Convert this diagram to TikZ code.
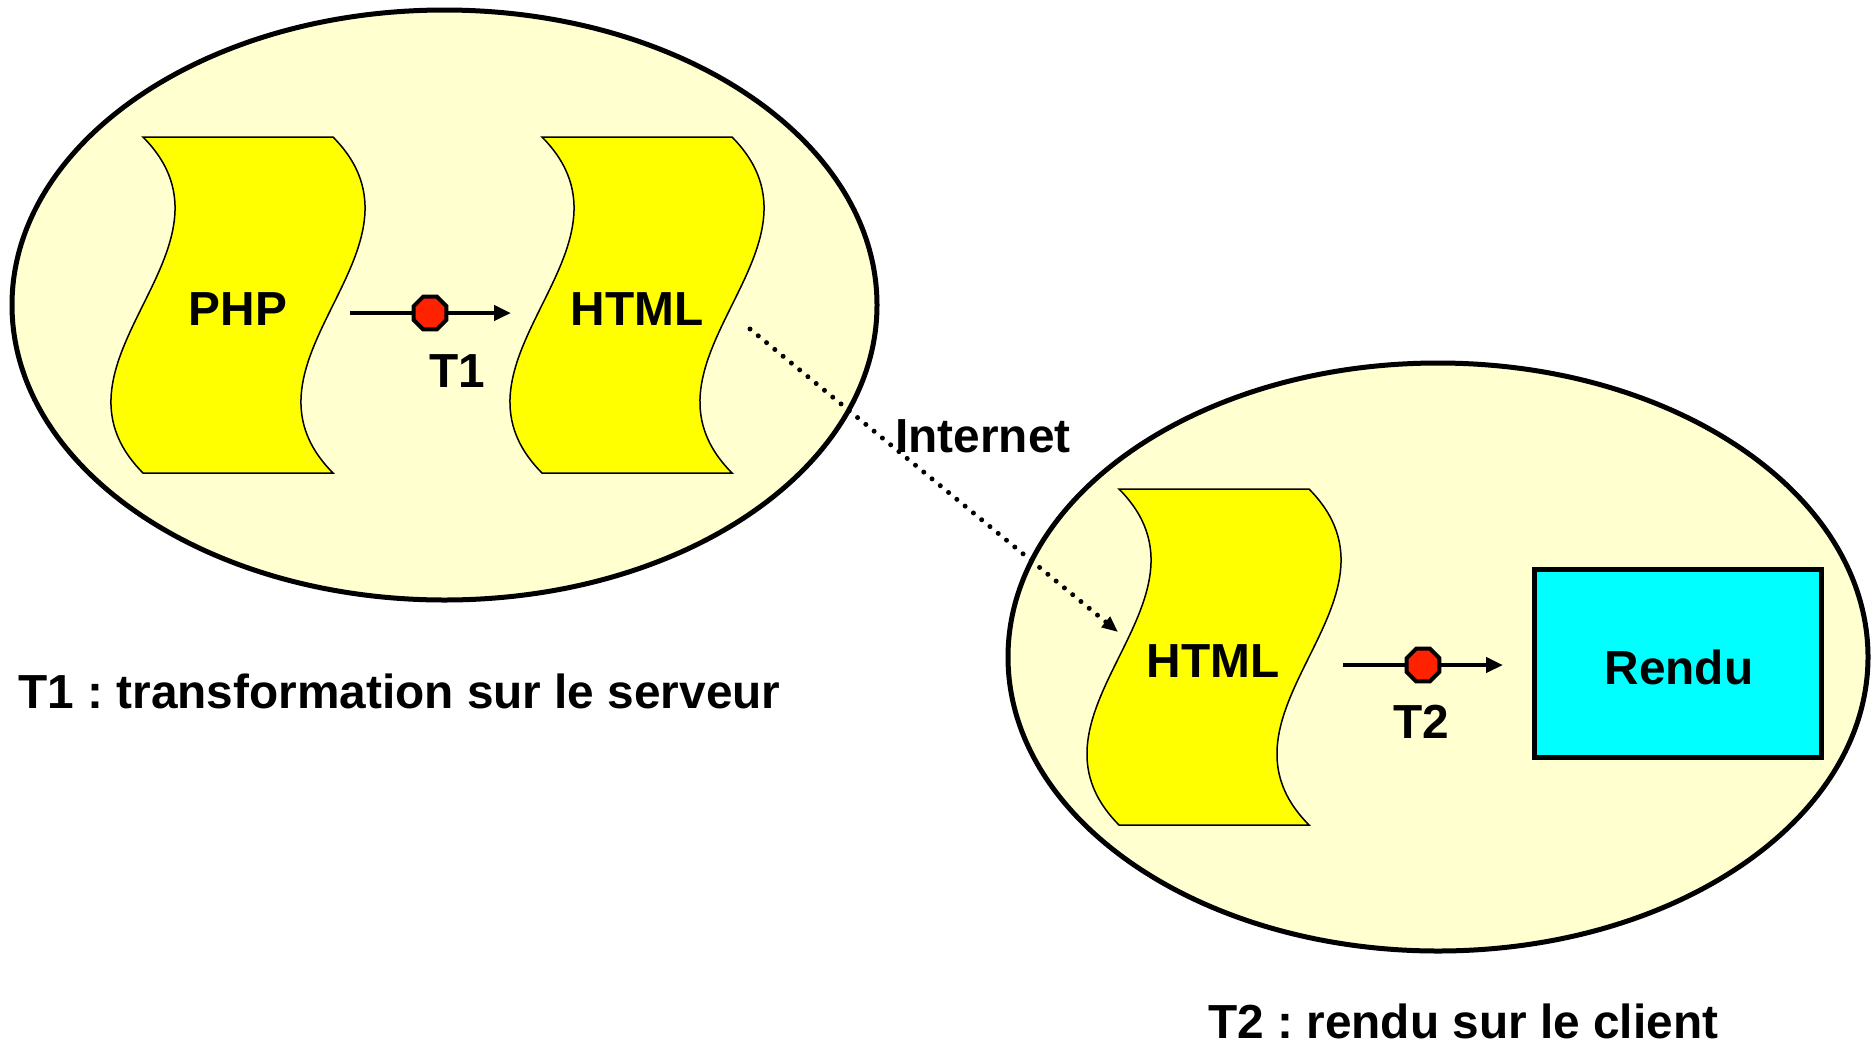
\documentclass[tikz,border=0pt]{standalone}
\usepackage{fontspec}
\setmainfont{Liberation Sans}
\usetikzlibrary{arrows.meta,shapes.geometric}
\frenchspacing

\definecolor{zonefill}{RGB}{255,255,208}
\definecolor{docfill}{RGB}{255,255,0}
\definecolor{renderfill}{RGB}{0,255,255}
\definecolor{stopred}{RGB}{255,34,0}

\tikzset{
  zone/.style={draw=black, fill=zonefill, line width=0.1cm},
  docshape/.style={draw=black, fill=docfill, line width=0.03cm},
  lbl/.style={font=\fontsize{27.2}{32}\selectfont\bfseries, inner sep=0pt, anchor=base},
  caption/.style={lbl, anchor=base west, text depth=0pt},
  flow/.style={line width=0.09cm, -{Triangle[length=0.34cm,width=0.3cm]}},
  netlink/.style={line width=0.1cm, line cap=round, dash pattern=on 0pt off 6.1pt,
                  -{Triangle[length=0.32cm,width=0.26cm]}},
  stopmark/.style={regular polygon, regular polygon sides=8, draw=black, fill=stopred,
                   line width=0.08cm, minimum size=0.71cm, inner sep=0pt},
  renderbox/.style={draw=black, fill=renderfill, line width=0.1cm}
}

% wavy document sheet centred at (#1,#2): half width 95, half height 168
\newcommand\wavesheet[2]{%
  \draw[docshape] (#1-95,#2-168) -- (#1+95,#2-168)
    .. controls (#1+206,#2-56) and (#1-16,#2+56) .. (#1+95,#2+168)
    -- (#1-95,#2+168)
    .. controls (#1-206,#2+56) and (#1+16,#2-56) .. (#1-95,#2-168) -- cycle;}

\begin{document}
\begin{tikzpicture}[x=0.02cm, y=-0.02cm]
\useasboundingbox (0,0) rectangle (1876,1049);

% server and client zones
\draw[zone] (444.5,305) ellipse [x radius=432.5, y radius=295];
\draw[zone] (1438,657) ellipse [x radius=430, y radius=294];

% documents
\wavesheet{238}{305}
\wavesheet{637}{305}
\wavesheet{1214}{657}

\node[lbl] (php) at (238,325) {PHP};
\node[lbl] (html1) at (637,325) {HTML};
\node[lbl] (html2) at (1213,677) {HTML};

% rendering result
\node[renderbox, minimum width=5.76cm, minimum height=3.78cm, inner sep=0pt] (rendu) at (1678,663.5) {};
\node[lbl] (rendutxt) at (1679,684) {Rendu};

% transformation T1 on the server
\coordinate (t1s) at (350,313);
\coordinate (t1e) at (511,313);
\draw[flow] (t1s) -- (t1e);
\node[stopmark] (stop1) at (430,313) {};
\node[lbl] (t1) at (457.5,387) {T1};

% rendering T2 on the client
\coordinate (t2s) at (1343,665);
\coordinate (t2e) at (1503,665);
\draw[flow] (t2s) -- (t2e);
\node[stopmark] (stop2) at (1423,665) {};
\node[lbl] (t2) at (1421,738) {T2};

% transfer over the network
\coordinate (nets) at (750,329);
\coordinate (nete) at (1118,632);
\draw[netlink] (nets) -- (nete);
\node[lbl] (internet) at (983,452) {Internet};

% legends
\node[caption] (cap1) at (18,708) {T1 : transformation sur le serveur};
\node[caption] (cap2) at (1208,1038) {T2 : rendu sur le client};
\end{tikzpicture}
\end{document}
